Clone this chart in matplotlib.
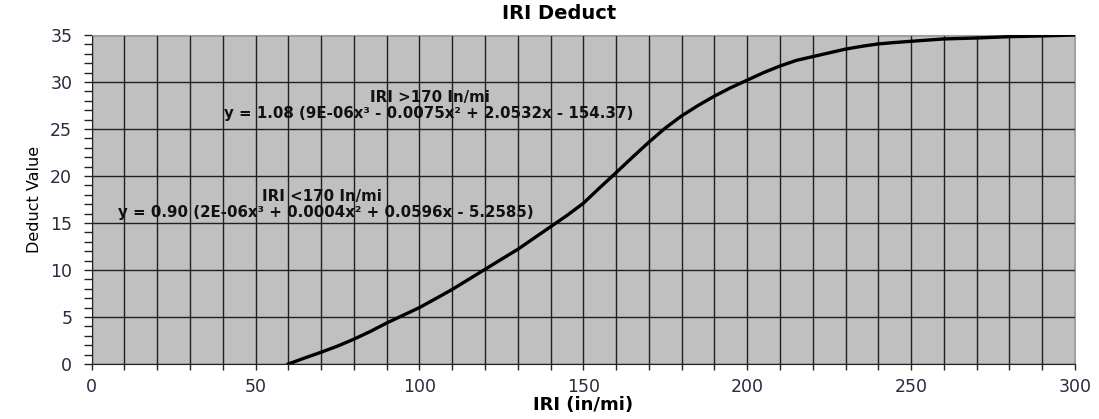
import matplotlib

matplotlib.use("Agg")
import matplotlib.pyplot as plt
from matplotlib.ticker import MultipleLocator

plt.rcParams["font.family"] = ["DejaVu Sans"]

# curve
iri = [60, 65, 70, 75, 80, 85, 90, 95, 100, 105, 110, 115, 120, 125, 130,
       140, 145, 150, 155, 160, 165, 170, 175, 180, 185, 190, 195, 200,
       205, 210, 215, 220, 225, 230, 235, 240, 245, 250, 260, 270, 280,
       290, 300]
deduct = [0.0, 0.64, 1.25, 1.9, 2.64, 3.46, 4.36, 5.18, 6.0, 6.96, 7.93,
          9.0, 10.07, 11.14, 12.2, 14.6, 15.8, 17.1, 18.75, 20.36, 22.0,
          23.6, 25.1, 26.4, 27.5, 28.5, 29.4, 30.2, 31.0, 31.7, 32.3, 32.7,
          33.1, 33.5, 33.8, 34.05, 34.2, 34.33, 34.58, 34.68, 34.82, 34.9,
          35.0]

label_hi = "IRI >170 In/mi"
eq_hi = "y = 1.08 (9E-06x³ - 0.0075x² + 2.0532x - 154.37)"
label_lo = "IRI <170 In/mi"
eq_lo = "y = 0.90 (2E-06x³ + 0.0004x² + 0.0596x - 5.2585)"

fig = plt.figure(figsize=(10.99, 4.19), dpi=100)
ax = fig.add_axes([0.0834, 0.1313, 0.8948, 0.7852])
ax.set_facecolor("#c0c0c0")

ax.plot(iri, deduct, color="black", lw=2.4, zorder=3)

ax.set_xlim(0, 300)
ax.set_ylim(0, 35)
ax.xaxis.set_major_locator(MultipleLocator(50))
ax.xaxis.set_minor_locator(MultipleLocator(10))
ax.yaxis.set_major_locator(MultipleLocator(5))
ax.yaxis.set_minor_locator(MultipleLocator(1))
ax.grid(which="both", axis="x", color="#202020", lw=1.0)
ax.grid(which="major", axis="y", color="#202020", lw=1.0)
ax.set_axisbelow(True)

ax.tick_params(axis="x", which="both", direction="out", length=4, width=1,
               labelsize=12.5, colors="#222222", labelcolor="#2a2a40", pad=6)
ax.tick_params(axis="y", which="both", direction="out", length=6, width=1,
               labelsize=12.5, colors="#222222", labelcolor="#2a2a40", pad=8)
ax.tick_params(axis="x", which="minor", labelbottom=False)

for side in ["top", "right"]:
    ax.spines[side].set_color("#a0a0a0")
for side in ["left", "bottom"]:
    ax.spines[side].set_color("#222222")

ax.set_xlabel("IRI (in/mi)", fontsize=13, fontweight="bold", labelpad=0)
ax.set_ylabel("Deduct Value", fontsize=11.5, labelpad=6,
              family=["Liberation Sans Narrow", "DejaVu Sans"])
fig.text(0.509, 0.967, "IRI Deduct", fontsize=14, fontweight="bold",
         ha="center", va="center")

ann = dict(fontsize=10.8, fontweight="bold", ha="left", va="center", color="#111111")
ax.text(85, 28.4, label_hi, **ann)
ax.text(40.5, 26.7, eq_hi, **ann)
ax.text(52, 17.8, label_lo, **ann)
ax.text(8, 16.1, eq_lo, **ann)

fig.savefig("out.png", dpi=100)
